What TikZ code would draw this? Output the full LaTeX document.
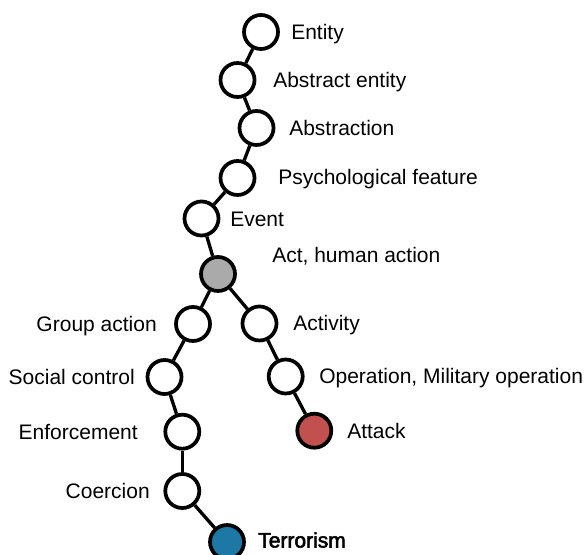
\documentclass[tikz,border=0pt]{standalone}
\usepackage{fontspec}
\setmainfont{Liberation Sans}
\newfontfamily\heavyfont[FakeBold=2.5]{Liberation Sans}
\usepackage{tikz}
\usepackage{xcolor}

\definecolor{actgray}{HTML}{AAAAAA}
\definecolor{attackred}{HTML}{C2504E}
\definecolor{terrorblue}{HTML}{1E78A6}

\tikzset{
  concept/.style={circle, draw=black, line width=2.8pt, fill=white,
    minimum size=25.5pt, inner sep=0pt},
  link/.style={line width=2.5pt},
  term/.style={inner sep=0pt, font=\fontsize{15.75}{19}\selectfont}
}

\begin{document}
\begin{tikzpicture}[x=0.75pt, y=-0.75pt]
  \useasboundingbox (0,0) rectangle (585,555);

  % Concepts
  \node[concept] (entity) at (261,32) {};
  \node[concept] (abstractentity) at (237.5,80) {};
  \node[concept] (abstraction) at (256.5,128) {};
  \node[concept] (psych) at (237.5,178) {};
  \node[concept] (event) at (201.5,218.5) {};
  \node[concept, fill=actgray] (act) at (218,274) {};
  \node[concept] (groupaction) at (193,324) {};
  \node[concept] (activity) at (259.5,323.5) {};
  \node[concept] (socialcontrol) at (164.5,377) {};
  \node[concept] (operation) at (285.7,376.5) {};
  \node[concept] (enforcement) at (182.3,431.7) {};
  \node[concept, fill=attackred] (attack) at (314.3,430.7) {};
  \node[concept] (coercion) at (182.3,491) {};
  \node[concept, fill=terrorblue] (terrorism) at (227,542) {};

  % Links
  \draw[link] (entity) -- (abstractentity);
  \draw[link] (abstractentity) -- (abstraction);
  \draw[link] (abstraction) -- (psych);
  \draw[link] (psych) -- (event);
  \draw[link] (event) -- (act);
  \draw[link] (act) -- (groupaction);
  \draw[link] (act) -- (activity);
  \draw[link] (groupaction) -- (socialcontrol);
  \draw[link] (socialcontrol) -- (enforcement);
  \draw[link] (enforcement) -- (coercion);
  \draw[link] (coercion) -- (terrorism);
  \draw[link] (activity) -- (operation);
  \draw[link] (operation) -- (attack);

  % Labels
  \node[term, anchor=base west] (t-entity) at (291,39.5) {Entity};
  \node[term, anchor=base west] (t-abstractentity) at (273,87.5) {Abstract entity};
  \node[term, anchor=base west] (t-abstraction) at (289,135.5) {Abstraction};
  \node[term, anchor=base west] (t-psych) at (278,184.5) {Psychological feature};
  \node[term, anchor=base west] (t-event) at (230,226.5) {Event};
  \node[term, anchor=base west] (t-act) at (272,262.5) {Act, human action};
  \node[term, anchor=base west] (t-activity) at (293,330.5) {Activity};
  \node[term, anchor=base west] (t-operation) at (319,383.5) {Operation, Military operation};
  \node[term, anchor=base west] (t-attack) at (347,438.5) {Attack};
  \node[term, anchor=base west] (t-terrorism) at (258,547.5) {\heavyfont Terrorism};
  \node[term, anchor=base east] (t-groupaction) at (157,331.5) {Group action};
  \node[term, anchor=base east] (t-socialcontrol) at (135,384.5) {Social control};
  \node[term, anchor=base east] (t-enforcement) at (138,439.5) {Enforcement};
  \node[term, anchor=base east] (t-coercion) at (150,498.5) {Coercion};
\end{tikzpicture}
\end{document}
